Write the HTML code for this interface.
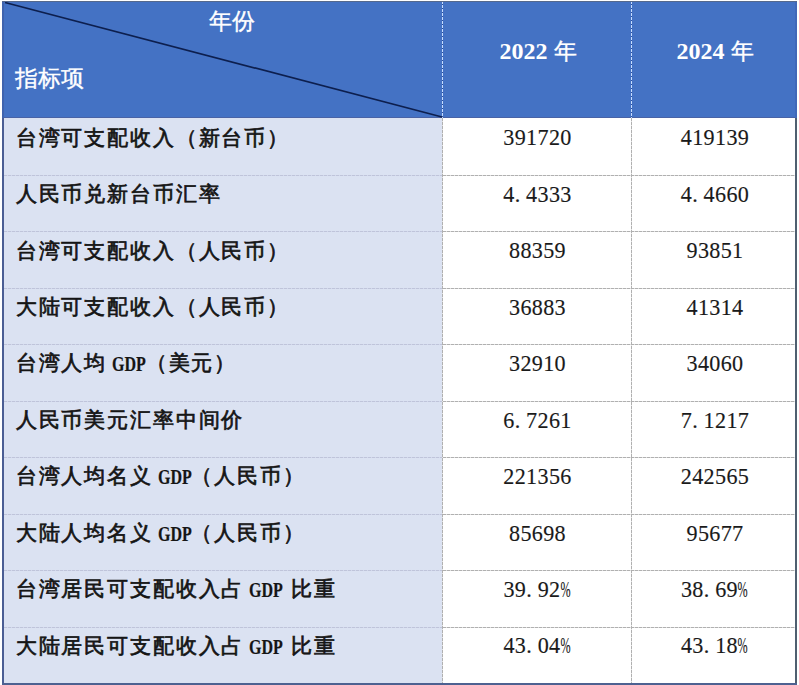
<!DOCTYPE html>
<html><head><meta charset="utf-8">
<style>
html,body{margin:0;padding:0;background:#fff;width:799px;height:685px;overflow:hidden}
*{box-sizing:border-box}
.a{position:absolute}
.hdr{left:2px;top:1px;width:795px;height:116.8px;background:#4472c4}
.lc{left:2px;top:117.6px;width:440px;height:567px;background:#dbe2f2}
.b{position:absolute;background:#4b5f8e}
.vl{position:absolute;width:1px;background:repeating-linear-gradient(to bottom,#b0b0b0 0 3px,#e2e2e2 3px 4px)}
.hl{position:absolute;height:1px;background:repeating-linear-gradient(to right,#b0b0b0 0 3px,#dedede 3px 4px)}
.hll{background:repeating-linear-gradient(to right,#bfc4da 0 3px,#d2d8ec 3px 4px)}
.vh{position:absolute;width:1px;background:repeating-linear-gradient(to bottom,#c6dcff 0 3px,#2d4f9e 3px 4px)}
.tx{position:absolute;font-family:"Liberation Serif",serif;white-space:nowrap}
.lab{left:15.8px;font-size:21px;font-weight:500;color:#151515;-webkit-text-stroke:0.7px #151515;line-height:21px;letter-spacing:1.85px}
.lat{display:inline-block;position:relative;height:1em;vertical-align:top}
.lat span{position:absolute;left:5px;top:-1.1px;transform-origin:0 0;transform:scaleX(0.8);font-family:"Liberation Serif",serif;font-size:20px;line-height:24px;font-weight:bold;letter-spacing:0;-webkit-text-stroke:0.2px #151515}
.num{font-size:23.5px;letter-spacing:0.38px;color:#1a1a1a;line-height:30px;text-align:center;transform:scaleX(0.94);-webkit-text-stroke:0.15px #1a1a1a}
.dot{margin-right:5.87px}
.pc{display:inline-block;position:relative;width:11.75px;height:1em;vertical-align:top}
.pc span{position:absolute;left:0;top:0;transform-origin:0 0;transform:scaleX(0.55)}
.c1{left:443px;width:189px}
.c2{left:631.5px;width:166px}
.wh{color:#fff;font-size:22.8px;line-height:24px;font-weight:500;-webkit-text-stroke:0.35px #fff}
</style></head><body>
<div class="a hdr"></div><div class="a lc"></div>
<div class="a" style="left:2px;top:116.6px;width:795px;height:1.2px;background:#4963a6"></div>
<svg class="a" style="left:0;top:0" width="799" height="125"><line x1="5" y1="2.5" x2="442" y2="117" stroke="#0d1f4e" stroke-width="1.7"/></svg>
<div class="vh" style="left:442px;top:1px;height:117px"></div>
<div class="vh" style="left:631px;top:1px;height:117px"></div>
<div class="vl" style="left:442px;top:118px;height:566px"></div>
<div class="vl" style="left:631px;top:118px;height:566px"></div>
<div class="hl hll" style="left:4px;top:175px;width:438px"></div>
<div class="hl" style="left:443px;top:175px;width:352px"></div>
<div class="hl hll" style="left:4px;top:231px;width:438px"></div>
<div class="hl" style="left:443px;top:231px;width:352px"></div>
<div class="hl hll" style="left:4px;top:288px;width:438px"></div>
<div class="hl" style="left:443px;top:288px;width:352px"></div>
<div class="hl hll" style="left:4px;top:344px;width:438px"></div>
<div class="hl" style="left:443px;top:344px;width:352px"></div>
<div class="hl hll" style="left:4px;top:401px;width:438px"></div>
<div class="hl" style="left:443px;top:401px;width:352px"></div>
<div class="hl hll" style="left:4px;top:457px;width:438px"></div>
<div class="hl" style="left:443px;top:457px;width:352px"></div>
<div class="hl hll" style="left:4px;top:514px;width:438px"></div>
<div class="hl" style="left:443px;top:514px;width:352px"></div>
<div class="hl hll" style="left:4px;top:570px;width:438px"></div>
<div class="hl" style="left:443px;top:570px;width:352px"></div>
<div class="hl hll" style="left:4px;top:627px;width:438px"></div>
<div class="hl" style="left:443px;top:627px;width:352px"></div>
<div class="b" style="left:2px;top:118px;width:2px;height:567px;background:#4b5e94"></div>
<div class="b" style="left:2px;top:1px;width:2px;height:117px;background:#3f63ae"></div>
<div class="b" style="left:795px;top:118px;width:2px;height:567px;background:#4f5f70"></div>
<div class="b" style="left:795px;top:1px;width:2px;height:117px;background:#4068b8"></div>
<div class="b" style="left:2px;top:683px;width:795px;height:2px;background:#4d6191"></div>
<div class="b" style="left:2px;top:1px;width:795px;height:1px;background:#56698c"></div>
<div class="tx wh" style="left:208.5px;top:10.2px">年份</div>
<div class="tx wh" style="left:15.3px;top:67.3px">指标项</div>
<div class="tx wh c1" style="top:38.5px;padding-left:1px;text-align:center;font-weight:bold;font-size:24px;-webkit-text-stroke:0">2022 <span style="font-weight:500;font-size:22.8px;-webkit-text-stroke:0.35px #fff;position:relative;top:0.5px">年</span></div>
<div class="tx wh c2" style="top:38.5px;padding-left:1px;text-align:center;font-weight:bold;font-size:24px;-webkit-text-stroke:0">2024 <span style="font-weight:500;font-size:22.8px;-webkit-text-stroke:0.35px #fff;position:relative;top:0.5px">年</span></div>
<div class="tx lab" style="top:127.6px">台湾可支配收入（新台币）</div>
<div class="tx lab" style="top:184.1px">人民币兑新台币汇率</div>
<div class="tx lab" style="top:240.5px">台湾可支配收入（人民币）</div>
<div class="tx lab" style="top:297.0px">大陆可支配收入（人民币）</div>
<div class="tx lab" style="top:353.4px">台湾人均<span class="lat" style="width:38.5px"><span>GDP</span></span>（美元）</div>
<div class="tx lab" style="top:409.9px">人民币美元汇率中间价</div>
<div class="tx lab" style="top:466.3px">台湾人均名义<span class="lat" style="width:38.5px"><span>GDP</span></span>（人民币）</div>
<div class="tx lab" style="top:522.8px">大陆人均名义<span class="lat" style="width:38.5px"><span>GDP</span></span>（人民币）</div>
<div class="tx lab" style="top:579.2px">台湾居民可支配收入占<span class="lat" style="width:38.5px"><span>GDP</span></span><i style="display:inline-block;width:8.5045px"></i>比重</div>
<div class="tx lab" style="top:635.6px">大陆居民可支配收入占<span class="lat" style="width:38.5px"><span>GDP</span></span><i style="display:inline-block;width:8.5045px"></i>比重</div>
<div class="tx num c1" style="top:122.4px">391720</div><div class="tx num c2" style="top:122.4px">419139</div>
<div class="tx num c1" style="top:178.9px">4<span class="dot">.</span>4333</div><div class="tx num c2" style="top:178.9px">4<span class="dot">.</span>4660</div>
<div class="tx num c1" style="top:235.3px">88359</div><div class="tx num c2" style="top:235.3px">93851</div>
<div class="tx num c1" style="top:291.8px">36883</div><div class="tx num c2" style="top:291.8px">41314</div>
<div class="tx num c1" style="top:348.2px">32910</div><div class="tx num c2" style="top:348.2px">34060</div>
<div class="tx num c1" style="top:404.7px">6<span class="dot">.</span>7261</div><div class="tx num c2" style="top:404.7px">7<span class="dot">.</span>1217</div>
<div class="tx num c1" style="top:461.1px">221356</div><div class="tx num c2" style="top:461.1px">242565</div>
<div class="tx num c1" style="top:517.5px">85698</div><div class="tx num c2" style="top:517.5px">95677</div>
<div class="tx num c1" style="top:574.0px">39<span class="dot">.</span>92<span class="pc"><span>%</span></span></div><div class="tx num c2" style="top:574.0px">38<span class="dot">.</span>69<span class="pc"><span>%</span></span></div>
<div class="tx num c1" style="top:630.4px">43<span class="dot">.</span>04<span class="pc"><span>%</span></span></div><div class="tx num c2" style="top:630.4px">43<span class="dot">.</span>18<span class="pc"><span>%</span></span></div>
</body></html>
